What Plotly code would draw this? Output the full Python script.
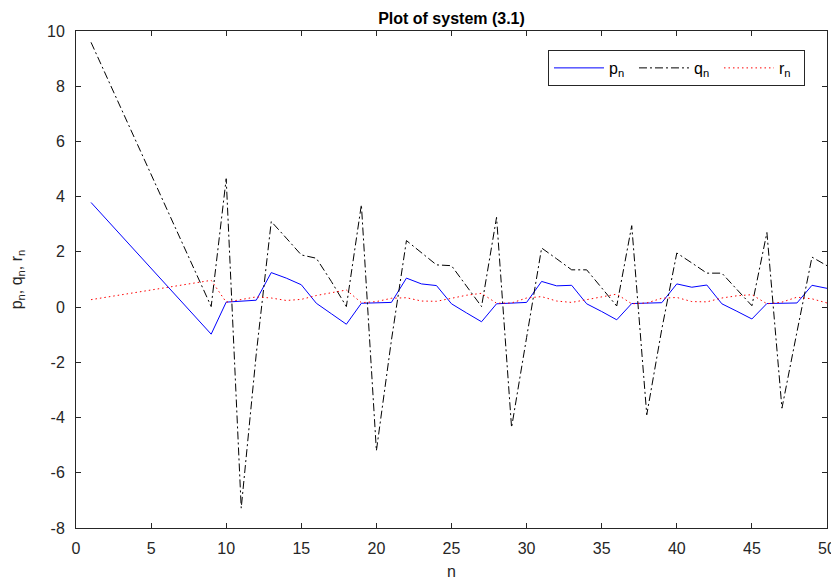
import plotly.graph_objects as go

n = [1] + list(range(9, 51))

p_vals = [3.79, -0.98,
          0.18, 0.22, 0.25, 1.25, 1.05, 0.81, 0.14, -0.24, -0.62,
          0.14, 0.16, 0.17, 1.05, 0.84, 0.78, 0.12, -0.21, -0.53,
          0.12, 0.14, 0.17, 0.93, 0.77, 0.79, 0.12, -0.16, -0.46,
          0.13, 0.14, 0.16, 0.84, 0.72, 0.80, 0.12, -0.15, -0.43,
          0.13, 0.13, 0.15, 0.79, 0.68]

q_vals = [9.59, 0.02,
          4.65, -7.28, -1.70, 3.10, 2.50, 1.89, 1.77, 0.93, 0.02,
          3.71, -5.20, -1.20, 2.41, 1.97, 1.53, 1.50, 0.76, 0.02,
          3.25, -4.36, -1.10, 2.14, 1.75, 1.35, 1.35, 0.70, 0.04,
          2.95, -3.90, -0.80, 1.96, 1.60, 1.23, 1.23, 0.64, 0.05,
          2.70, -3.66, -0.90, 1.81, 1.50]

r_vals = [0.27, 0.97,
          0.18, 0.28, 0.37, 0.33, 0.24, 0.28, 0.42, 0.52, 0.62,
          0.16, 0.20, 0.32, 0.34, 0.22, 0.21, 0.32, 0.43, 0.50,
          0.14, 0.15, 0.33, 0.38, 0.22, 0.17, 0.27, 0.38, 0.47,
          0.12, 0.15, 0.32, 0.35, 0.20, 0.19, 0.33, 0.41, 0.45,
          0.12, 0.18, 0.36, 0.30, 0.15]

x_ticks = [0, 5, 10, 15, 20, 25, 30, 35, 40, 45, 50]
y_ticks = [-8, -6, -4, -2, 0, 2, 4, 6, 8, 10]
y_tick_text = ["-8", "-6", "-4", "-2", "0", "2", "4", "6", "8", "10"]

FONT = "Liberation Sans, Arial, Helvetica, sans-serif"
AX = "#262626"

# page body has an 8px margin, so the figure is sized/positioned to compensate
W, H = 831, 575

fig = go.Figure()
fig.add_trace(go.Scatter(x=n, y=p_vals, mode="lines", name="p<sub>n</sub>",
                         line=dict(color="#0000ff", width=1)))
fig.add_trace(go.Scatter(x=n, y=q_vals, mode="lines", name="q<sub>n</sub>",
                         line=dict(color="#000000", width=1, dash="8px,3px,2px,3px")))
fig.add_trace(go.Scatter(x=n, y=r_vals, mode="lines", name="r<sub>n</sub>",
                         line=dict(color="#ff0000", width=1, dash="1.5px,3px")))

axis_common = dict(showline=True, linecolor=AX, linewidth=1, mirror="ticks",
                   ticks="inside", ticklen=5, tickcolor=AX, showgrid=False,
                   zeroline=False, automargin=False,
                   tickfont=dict(family=FONT, size=16, color=AX))

fig.update_xaxes(range=[0, 50], tickvals=x_ticks, ticklabelstandoff=6, **axis_common,
                 title=dict(text="n", font=dict(family=FONT, size=16, color=AX), standoff=9))
fig.update_yaxes(range=[-8, 10], tickvals=y_ticks, ticktext=y_tick_text,
                 ticklabelstandoff=7, **axis_common,
                 title=dict(text="p<sub>n</sub>, q<sub>n</sub>, r<sub>n</sub>",
                            font=dict(family=FONT, size=16, color=AX), standoff=22))

fig.update_layout(
    width=W, height=H,
    margin=dict(l=68, r=12, t=23, b=55),
    paper_bgcolor="white", plot_bgcolor="white",
    title=dict(text="<b>Plot of system (3.1)</b>", x=(451.5 - 8) / W, xanchor="center",
               xref="container", y=1 - 10 / H, yref="container", yanchor="middle",
               font=dict(family=FONT, size=16, color="#000000")),
    showlegend=True,
    legend=dict(orientation="h", x=0.9707, xanchor="right", y=0.9618, yanchor="top",
                bordercolor=AX, borderwidth=1, bgcolor="white",
                font=dict(family=FONT, size=16, color="#000000"),
                itemwidth=50, entrywidth=20, entrywidthmode="pixels", tracegroupgap=0),
)

fig.write_html("out.html")
